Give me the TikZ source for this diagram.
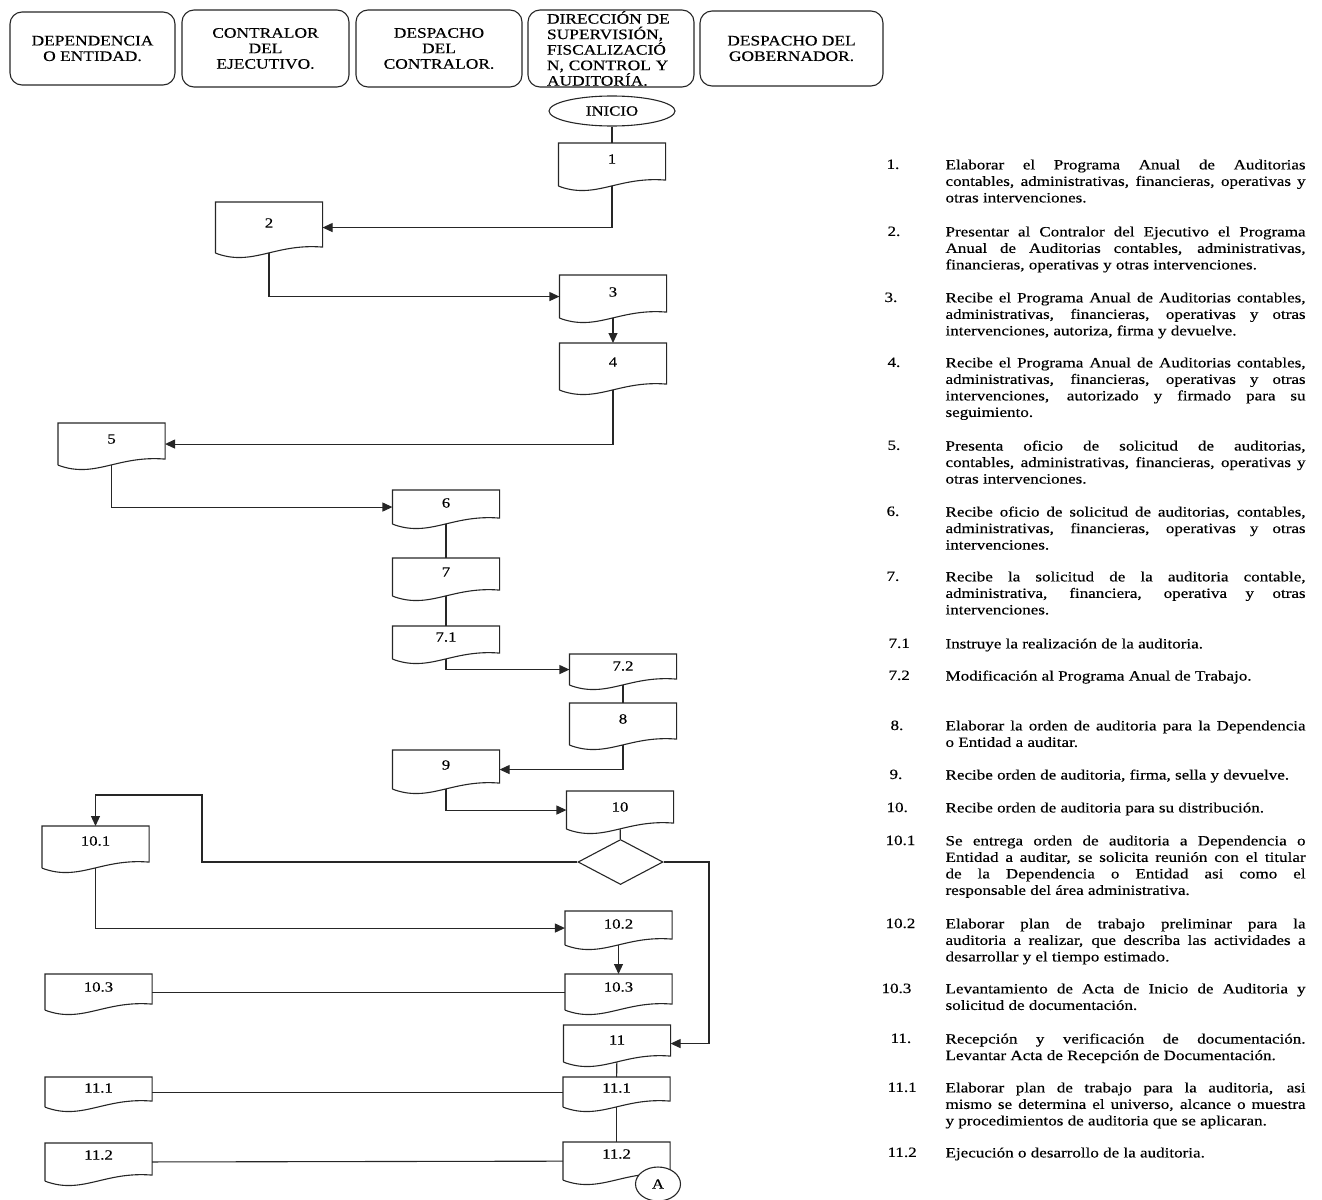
\documentclass[tikz,border=0pt]{standalone}
\usepackage{fontspec}
\setmainfont{Liberation Serif}
\newfontfamily\wideserif[FakeStretch=1.2,FakeBold=0.4]{Liberation Serif}
\usetikzlibrary{arrows.meta,shapes.geometric}
\tolerance=10000
\hbadness=10000
\hyphenpenalty=10000
\exhyphenpenalty=10000

\tikzset{
  area/.style={draw, rounded corners=12pt, inner sep=0pt, align=center,
    font=\wideserif\fontsize{14.5}{15.5}\selectfont},
  doc/.style 2 args={minimum width=106pt, inner sep=0pt, anchor=north,
    text height=#1, text depth=#2, font=\wideserif\fontsize{14}{16}\selectfont,
    append after command={\pgfextra{\draw (\tikzlastnode.south west) -- (\tikzlastnode.north west)
      -- (\tikzlastnode.north east) -- ([yshift=6pt]\tikzlastnode.south east)
      .. controls ([xshift=-48pt,yshift=10pt]\tikzlastnode.south east)
      and ([xshift=37pt,yshift=-14pt]\tikzlastnode.south west) .. (\tikzlastnode.south west);}}},
  num/.style={anchor=north west, inner sep=0pt, font=\wideserif\fontsize{14.2}{16.5}\selectfont},
  desc/.style={anchor=north west, inner sep=0pt, text width=360pt, align=justify,
    font=\wideserif\fontsize{14.2}{16.5}\selectfont},
  arr/.style={-{Triangle[length=10pt,width=9pt]}}
}

\begin{document}
\begin{tikzpicture}[x=1pt,y=-1pt,line width=1.1pt,draw=black!85]
\useasboundingbox (0,0) rectangle (1322,1199);
\node[area, minimum width=165pt, minimum height=73pt] (h1) at (92.5,48.5) {DEPENDENCIA\\O ENTIDAD.};
\node[area, minimum width=167pt, minimum height=77pt] (h2) at (265.5,48.5) {CONTRALOR\\DEL\\EJECUTIVO.};
\node[area, minimum width=166pt, minimum height=77pt] (h3) at (439,48.5) {DESPACHO\\DEL\\CONTRALOR.};
\node[area, minimum width=166pt, minimum height=77pt, text width=128pt, align=left] (h4) at (611,48.5) {DIRECCIÓN DE\\SUPERVISIÓN,\\FISCALIZACIÓ\\N, CONTROL Y\\AUDITORÍA.};
\node[area, minimum width=183pt, minimum height=75pt] (h5) at (791.5,48.5) {DESPACHO DEL\\GOBERNADOR.};

\node[draw, ellipse, minimum width=126pt, minimum height=30pt, inner sep=0pt,
  font=\wideserif\fontsize{14}{16}\selectfont] (inicio) at (612,111) {INICIO};

\node[doc={20pt}{22pt}] (s1) at (612,143) {1};
\node[doc={25pt}{25pt}] (s2) at (269,202) {2};
\node[doc={21pt}{21pt}] (s3) at (613,275) {3};
\node[doc={23pt}{23pt}] (s4) at (613,343) {4};
\node[doc={20pt}{21pt}] (s5) at (111.5,423) {5};
\node[doc={17pt}{16pt}] (s6) at (446,490) {6};
\node[doc={18pt}{19pt}] (s7) at (446,558) {7};
\node[doc={15pt}{17pt}] (s71) at (446,626) {7.1};
\node[doc={16pt}{14pt}] (s72) at (623,654) {7.2};
\node[doc={20pt}{21pt}] (s8) at (623,703) {8};
\node[doc={19pt}{19pt}] (s9) at (446,750) {9};
\node[doc={20pt}{17pt}] (s10) at (620,791) {10};
\node[draw, diamond, minimum width=85pt, minimum height=45pt, inner sep=0pt, aspect=1.9] (dec) at (620.5,862) {};
\node[doc={19pt}{22pt}] (s101) at (95.5,826) {10.1};
\node[doc={17pt}{16pt}] (s102) at (618.5,911) {10.2};
\node[doc={17pt}{18pt}] (s103) at (618.5,974) {10.3};
\node[doc={17pt}{18pt}] (d103) at (98.5,974) {10.3};
\node[doc={19pt}{17pt}] (s11) at (617,1025) {11};
\node[doc={15pt}{14pt}] (s111) at (616.5,1077) {11.1};
\node[doc={15pt}{14pt}] (d111) at (98.5,1077) {11.1};
\node[doc={16pt}{21pt}] (s112) at (616.5,1142) {11.2};
\node[doc={16pt}{21pt}] (d112) at (98.5,1143) {11.2};
\node[draw, fill=white, ellipse, minimum width=45pt, minimum height=34pt, inner sep=0pt,
  font=\wideserif\fontsize{14}{16}\selectfont] (conA) at (658,1184) {A};

\coordinate (up) at (202,795);
\coordinate (side) at (709,862);
\draw (inicio) -- (s1);
\draw[arr] (s1) |- (s2);
\draw[arr] (s2) |- (s3);
\draw[arr] (s3) -- (s4);
\draw[arr] (s4) |- (s5);
\draw[arr] (s5) |- (s6);
\draw (s6) -- (s7);
\draw (s7) -- (s71);
\draw[arr] (s71) |- (s72);
\draw (s72) -- (s8);
\draw[arr] (s8) |- (s9);
\draw[arr] (s9) |- (s10);
\draw (s10) -- (dec);
\draw[arr] (dec) -| (up) -| (s101);
\draw[arr] (dec) -- (side) |- (s11);
\draw[arr] (s101) |- (s102);
\draw[arr] (s102) -- (s103);
\draw (d103) -- (s103);
\draw (s11) -- (s111);
\draw (d111) -- (s111);
\draw (s111) -- (s112);
\draw (d112) -- (s112);

\node[num] (n1) at (886,159) {1.};
\node[desc] (t1) at (945,159) {Elaborar el Programa Anual de Auditorias\linebreak contables, administrativas, financieras, operativas y\linebreak otras intervenciones.};
\node[num] (n2) at (887,226) {2.};
\node[desc] (t2) at (945,226) {Presentar al Contralor del Ejecutivo el Programa\linebreak Anual de Auditorias contables, administrativas,\linebreak financieras, operativas y otras intervenciones.};
\node[num] (n3) at (884,292) {3.};
\node[desc] (t3) at (945,292) {Recibe el Programa Anual de Auditorias contables,\linebreak administrativas, financieras, operativas y otras\linebreak intervenciones, autoriza, firma y devuelve.};
\node[num] (n4) at (887,357) {4.};
\node[desc] (t4) at (945,357) {Recibe el Programa Anual de Auditorias contables,\linebreak administrativas, financieras, operativas y otras\linebreak intervenciones, autorizado y firmado para su\linebreak seguimiento.};
\node[num] (n5) at (887,440) {5.};
\node[desc] (t5) at (945,440) {Presenta oficio de solicitud de auditorias,\linebreak contables, administrativas, financieras, operativas y\linebreak otras intervenciones.};
\node[num] (n6) at (886,506) {6.};
\node[desc] (t6) at (945,506) {Recibe oficio de solicitud de auditorias, contables,\linebreak administrativas, financieras, operativas y otras\linebreak intervenciones.};
\node[num] (n7) at (886,571) {7.};
\node[desc] (t7) at (945,571) {Recibe la solicitud de la auditoria contable,\linebreak administrativa, financiera, operativa y otras\linebreak intervenciones.};
\node[num] (n71) at (888,638) {7.1};
\node[desc] (t71) at (945,638) {Instruye la realización de la auditoria.};
\node[num] (n72) at (888,670) {7.2};
\node[desc] (t72) at (945,670) {Modificación al Programa Anual de Trabajo.};
\node[num] (n8) at (890,720) {8.};
\node[desc] (t8) at (945,720) {Elaborar la orden de auditoria para la Dependencia\linebreak o Entidad a auditar.};
\node[num] (n9) at (889,769) {9.};
\node[desc] (t9) at (945,769) {Recibe orden de auditoria, firma, sella y devuelve.};
\node[num] (n10) at (886,802) {10.};
\node[desc] (t10) at (945,802) {Recibe orden de auditoria para su distribución.};
\node[num] (n101) at (885,835) {10.1};
\node[desc] (t101) at (945,835) {Se entrega orden de auditoria a Dependencia o\linebreak Entidad a auditar, se solicita reunión con el titular\linebreak de la Dependencia o Entidad asi como el\linebreak responsable del área administrativa.};
\node[num] (n102) at (885,918) {10.2};
\node[desc] (t102) at (945,918) {Elaborar plan de trabajo preliminar para la\linebreak auditoria a realizar, que describa las actividades a\linebreak desarrollar y el tiempo estimado.};
\node[num] (n103) at (881,983) {10.3};
\node[desc] (t103) at (945,983) {Levantamiento de Acta de Inicio de Auditoria y\linebreak solicitud de documentación.};
\node[num] (n11) at (890,1033) {11.};
\node[desc] (t11) at (945,1033) {Recepción y verificación de documentación.\linebreak Levantar Acta de Recepción de Documentación.};
\node[num] (n111) at (887,1082) {11.1};
\node[desc] (t111) at (945,1082) {Elaborar plan de trabajo para la auditoria, asi\linebreak mismo se determina el universo, alcance o muestra\linebreak y procedimientos de auditoria que se aplicaran.};
\node[num] (n112) at (887,1147) {11.2};
\node[desc] (t112) at (945,1147) {Ejecución o desarrollo de la auditoria.};
\end{tikzpicture}
\end{document}
